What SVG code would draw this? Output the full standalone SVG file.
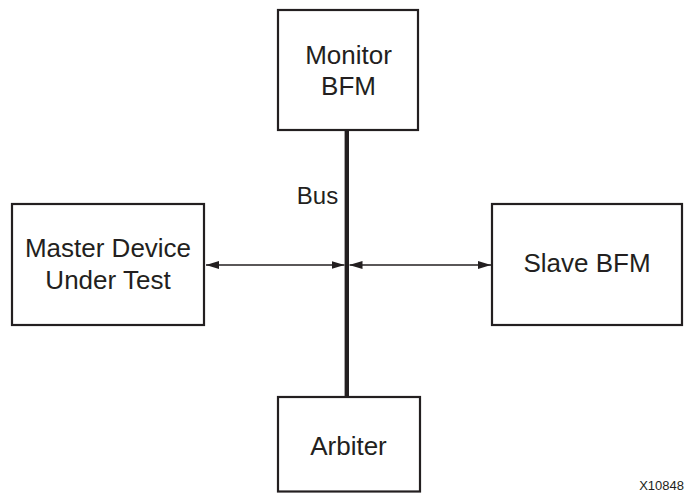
<svg xmlns="http://www.w3.org/2000/svg" width="685" height="493" viewBox="0 0 685 493">
<style>
.box{fill:#fff;stroke:#231f20;stroke-width:2.2}
.t{font-family:"Liberation Sans",Arial,sans-serif;font-size:26px;fill:#231f20;text-anchor:middle}
.conn{stroke:#231f20;stroke-width:1.3;fill:none}
</style>
<defs>
<marker id="ah" viewBox="0 0 13 8" refX="13" refY="4" markerWidth="13" markerHeight="8" markerUnits="userSpaceOnUse" orient="auto-start-reverse">
<path d="M0,0 L13,4 L0,8 Z" fill="#231f20"/>
</marker>
</defs>
<rect width="685" height="493" fill="#fff"/>
<g id="connectors">
<line id="bus" x1="346.8" y1="130" x2="346.8" y2="397" stroke="#231f20" stroke-width="4.4"/>
<line class="conn" x1="206" y1="265" x2="344.5" y2="265" marker-start="url(#ah)" marker-end="url(#ah)"/>
<line class="conn" x1="349.5" y1="265" x2="491" y2="265" marker-start="url(#ah)" marker-end="url(#ah)"/>
<text class="t" x="317.5" y="203.5" style="font-size:24px">Bus</text>
</g>
<g id="monitor">
<rect class="box" x="278" y="10" width="140" height="120"/>
<text class="t" x="348.5" y="64">Monitor</text>
<text class="t" x="348.5" y="95">BFM</text>
</g>
<g id="master">
<rect class="box" x="12" y="204" width="192" height="121"/>
<text class="t" x="108" y="257">Master Device</text>
<text class="t" x="108" y="289">Under Test</text>
</g>
<g id="slave">
<rect class="box" x="492" y="204" width="190" height="121"/>
<text class="t" x="587" y="272">Slave BFM</text>
</g>
<g id="arbiter">
<rect class="box" x="278" y="397" width="142" height="94.5"/>
<text class="t" x="348.5" y="454.5">Arbiter</text>
</g>
<text x="684" y="489.5" style="font-family:'Liberation Sans',Arial,sans-serif;font-size:13px;fill:#231f20;text-anchor:end">X10848</text>
</svg>
